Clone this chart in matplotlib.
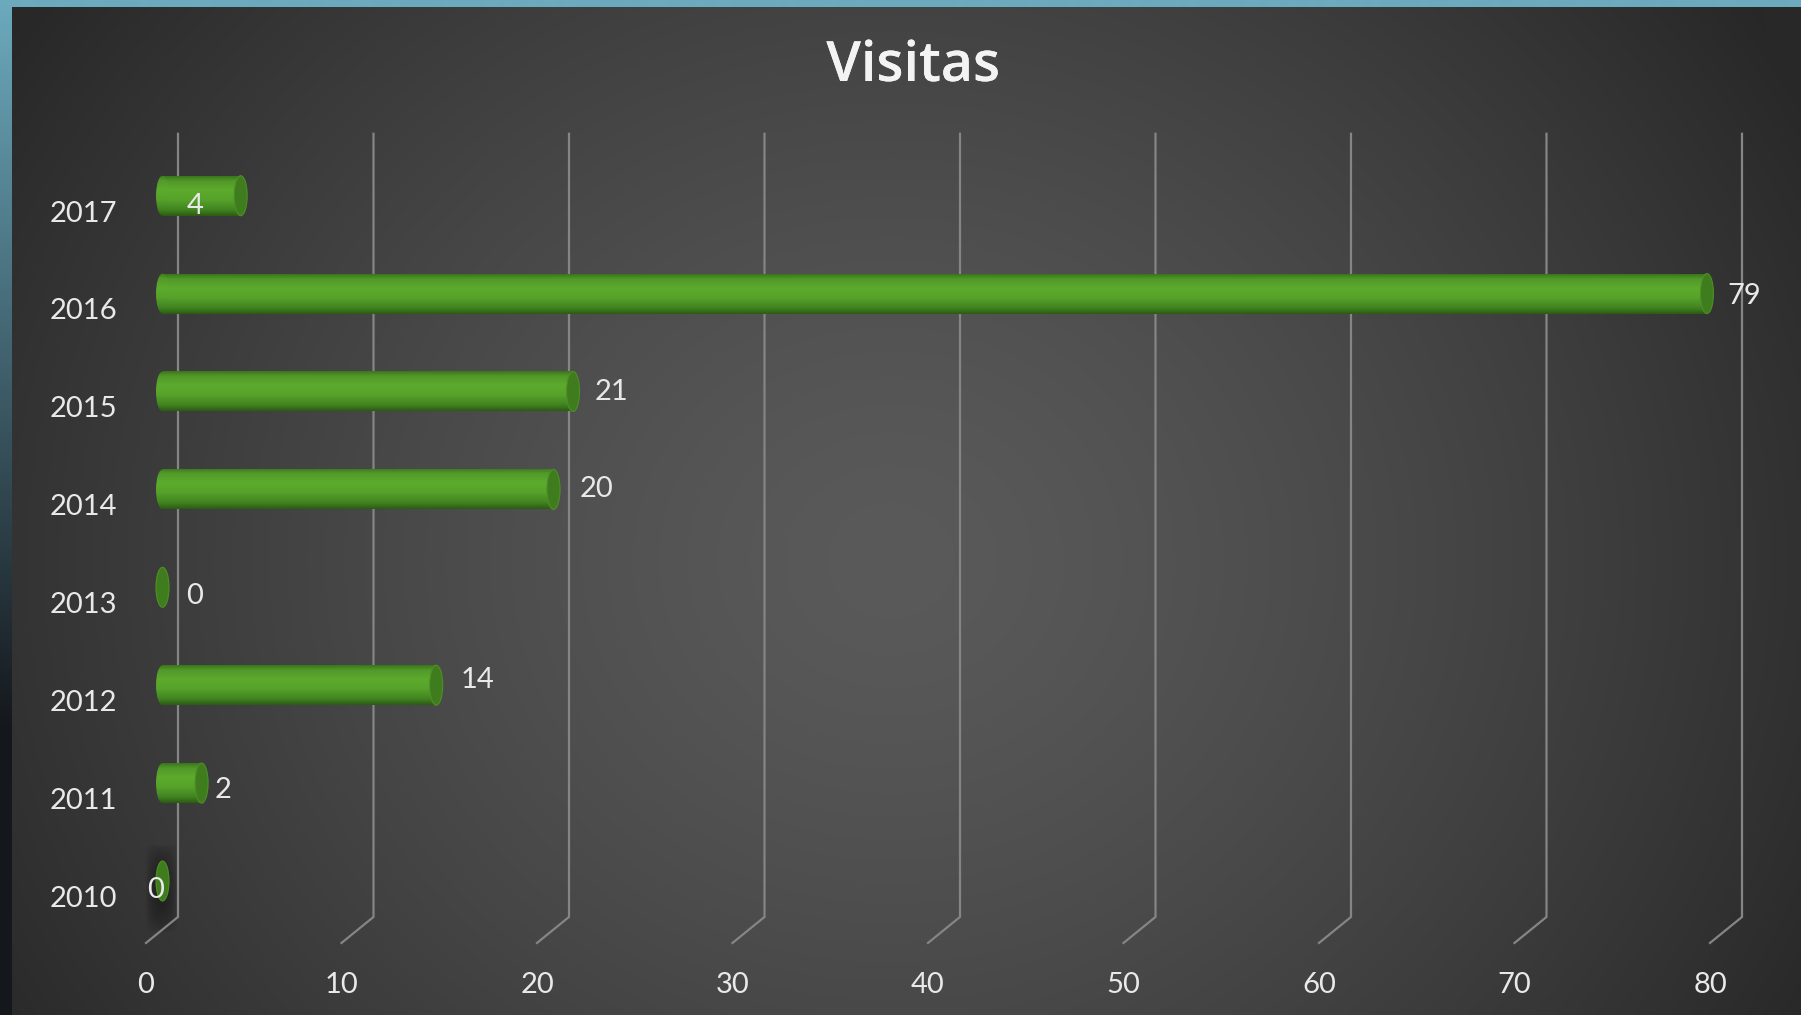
import numpy as np
import matplotlib
matplotlib.use("Agg")
import matplotlib.pyplot as plt
import matplotlib.patheffects as pe
from matplotlib.patches import Ellipse, Rectangle

plt.rcParams['font.family'] = ['Lato', 'DejaVu Sans']

# data (bottom row first)
YEARS = ['2010', '2011', '2012', '2013', '2014', '2015', '2016', '2017']
VISITS = [0, 2, 14, 0, 20, 21, 79, 4]
X_TICKS = [0, 10, 20, 30, 40, 50, 60, 70, 80]
TITLE = "Visitas"

# where each value label sits relative to the end of its bar, in pixels
LABEL_OFFSETS = [(-7, -9), (21, -7), (41, 5), (32, -9), (43, 0), (38, -1), (37, -2), (-46, -10)]

W, H, DPI = 1801, 1015, 100

# front plane of the fake 3d box: pixel = origin + value * scale
PX_PER_UNIT = 19.55
PX_PER_ROW = 97.9
ORIGIN_X = 146
ORIGIN_Y = 121

# depth shifts (data units) of the bar plane and the back wall
BAR_DX, BAR_DY = 16.5 / PX_PER_UNIT, 13 / PX_PER_ROW
BACK_DX, BACK_DY = 32 / PX_PER_UNIT, 26 / PX_PER_ROW
WALL_TOP = 7.5 + BACK_DY
FLOOR = -0.5

BAR_H = 40 / PX_PER_ROW
CAP_W = 13 / PX_PER_UNIT

TEXT = '#e9e9e9'
GRID = '#858585'


def hex_rgb(h):
    h = h.lstrip('#')
    return np.array([int(h[i:i + 2], 16) for i in (0, 2, 4)]) / 255.0


# radial grey background with the blue slide frame on top / left
def background():
    yy, xx = np.mgrid[0:H, 0:W]
    r = np.sqrt(((xx - 890) / 1050.0) ** 2 + ((yy - 560) / 950.0) ** 2)
    t = np.clip(r, 0, 1) ** 1.4
    center, edge = hex_rgb('#5a5a5a'), hex_rgb('#282828')
    img = center * (1 - t[..., None]) + edge * t[..., None]
    blue = hex_rgb('#6caabe')
    img[:7, :] = blue
    s = np.clip(np.linspace(0, 1, H) * 1.4, 0, 1)[:, None]
    img[:, :12] = (blue * (1 - s) + hex_rgb('#15181c') * s)[:, None, :]
    return img


def bar_gradient():
    stops = [(0.0, '#3b771b'), (0.12, '#52992a'), (0.35, '#5dab2d'),
             (0.6, '#56a22a'), (0.85, '#418320'), (1.0, '#2c5c13')]
    pos = np.linspace(0, 1, 60)
    cols = np.array([hex_rgb(c) for _, c in stops])
    at = np.array([p for p, _ in stops])
    g = np.stack([np.interp(pos, at, cols[:, k]) for k in range(3)], axis=1)
    return g[:, None, :]


def draw_cylinder(ax, x0, length, y, grad):
    x1 = x0 + length
    extent = [x0 - CAP_W / 2, x1, y - BAR_H / 2, y + BAR_H / 2]
    clips = [Rectangle((x0, y - BAR_H / 2), length, BAR_H, transform=ax.transData),
             Ellipse((x0, y), CAP_W, BAR_H, transform=ax.transData)]
    for clip in clips:
        im = ax.imshow(grad, extent=extent, aspect='auto', origin='upper',
                       interpolation='bilinear', zorder=3)
        im.set_clip_path(clip)
    ax.add_patch(Ellipse((x1, y), CAP_W, BAR_H, facecolor='#3f7c1e',
                         edgecolor='#4d8f26', lw=0.8, zorder=4))


def main():
    fig = plt.figure(figsize=(W / DPI, H / DPI), dpi=DPI)

    bg = fig.add_axes([0, 0, 1, 1])
    bg.imshow(background(), extent=[0, 1, 0, 1], aspect='auto', origin='upper')
    bg.set_axis_off()

    ax = fig.add_axes([0, 0, 1, 1])
    ax.patch.set_alpha(0)
    ax.set_axis_off()

    # back wall gridlines folding onto the floor
    for t in X_TICKS:
        ax.plot([t + BACK_DX, t + BACK_DX, t], [WALL_TOP, FLOOR + BACK_DY, FLOOR],
                color=GRID, lw=1.6, zorder=1, solid_joinstyle='miter')

    # soft shadow the first (empty) bar throws onto the back wall
    fx = np.sin(np.linspace(0, np.pi, 40)) ** 0.8
    fy = np.sin(np.linspace(0, np.pi, 60)) ** 0.6
    shade = np.zeros((60, 40, 4))
    shade[..., 3] = fy[:, None] * fx[None, :] * 0.4
    ax.imshow(shade, extent=[-0.05, BACK_DX, FLOOR + 0.1, 0.5], aspect='auto',
              interpolation='bilinear', zorder=0.5)

    grad = bar_gradient()
    for i, (year, v) in enumerate(zip(YEARS, VISITS)):
        y = i + BAR_DY
        draw_cylinder(ax, BAR_DX, v, y, grad)
        ax.annotate(str(v), xy=(BAR_DX + v, y), xytext=LABEL_OFFSETS[i],
                    textcoords='offset pixels', ha='center', va='center',
                    fontsize=21, color=TEXT, zorder=5)
        ax.text(-1.48, i - 0.05, year, ha='right', va='center', fontsize=21, color=TEXT)

    for t in X_TICKS:
        ax.text(t, -0.925, str(t), ha='center', va='center', fontsize=21, color=TEXT)

    fig.text(913 / W, 1 - 67 / H, TITLE, ha='center', va='center', fontsize=40,
             family=['Open Sans', 'DejaVu Sans'], weight='semibold', color='#f3f3f3',
             path_effects=[pe.withSimplePatchShadow(offset=(2, -3), alpha=0.55), pe.Normal()])

    ax.set_xlim(-ORIGIN_X / PX_PER_UNIT, (W - ORIGIN_X) / PX_PER_UNIT)
    ax.set_ylim(-ORIGIN_Y / PX_PER_ROW, (H - ORIGIN_Y) / PX_PER_ROW)

    fig.savefig('out.png', dpi=DPI)


if __name__ == "__main__":
    main()
